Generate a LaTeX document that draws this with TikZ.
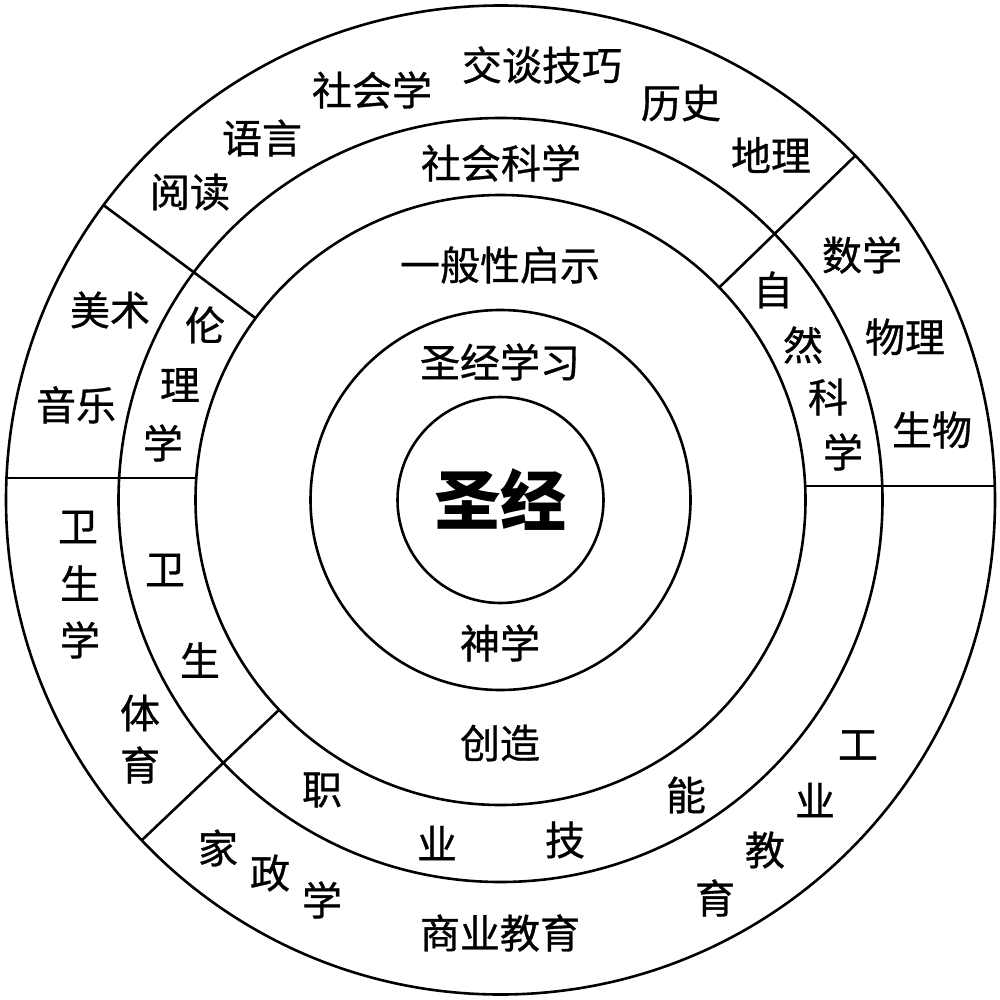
\documentclass[tikz,border=0pt]{standalone}
\usepackage{fontspec}
\setmainfont{Noto Sans CJK SC}
\newfontfamily\lblfont[FakeBold=0.8]{Noto Sans CJK SC}
\begin{document}
\begin{tikzpicture}[x=1pt,y=-1pt,
  ring/.style={line width=2.6pt},
  sep/.style={line width=2.6pt},
  lbl/.style={font=\lblfont\fontsize{40}{44}\selectfont, inner sep=0pt},
  big/.style={font=\fontsize{66}{70}\selectfont\bfseries, inner sep=0pt}]
\useasboundingbox[fill=white] (0,0) rectangle (1000,1000);
\coordinate (c) at (500.5,500);
% circles
\draw[ring] (c) circle (494.5);
\draw[ring] (c) circle (382);
\draw[ring] (c) circle (305);
\draw[ring] (c) circle (190);
\draw[ring] (c) circle (103);
% separators
\coordinate (a1) at (103.2,204.9); \coordinate (a2) at (255.3,318);
\coordinate (b1) at (855,156);     \coordinate (b2) at (719,287.7);
\coordinate (d1) at (141.5,840.5); \coordinate (d2) at (278.9,710);
\coordinate (e1) at (6,478);       \coordinate (e2) at (195.8,478);
\coordinate (f1) at (804.7,486);   \coordinate (f2) at (994.3,486);
\draw[sep] (a1) -- (a2);
\draw[sep] (b1) -- (b2);
\draw[sep] (d1) -- (d2);
\draw[sep] (e1) -- (e2);
\draw[sep] (f1) -- (f2);
% centre
\node[big] (shengjing) at (500,500) {圣经};
\node[lbl] (sjxx) at (500,362) {圣经学习};
\node[lbl] (shenxue) at (500,643) {神学};
\node[lbl] (ybxqs) at (500,265) {一般性启示};
\node[lbl] (chuangzao) at (500,743) {创造};
% fourth ring
\node[lbl] (shkx) at (501,163) {社会科学};
\node[lbl] (lun) at (205,325) {伦};
\node[lbl] (li) at (180,385) {理};
\node[lbl] (xue1) at (163,443) {学};
\node[lbl] (zi) at (773,290) {自};
\node[lbl] (ran) at (803,345) {然};
\node[lbl] (ke) at (828,397) {科};
\node[lbl] (xue2) at (843,452) {学};
\node[lbl] (wei1) at (165,570) {卫};
\node[lbl] (sheng1) at (200,660) {生};
\node[lbl] (zhi) at (322,790) {职};
\node[lbl] (ye1) at (437,843) {业};
\node[lbl] (ji) at (565,840) {技};
\node[lbl] (neng) at (686,795) {能};
% outer ring
\node[lbl] (jtjq) at (542,65) {交谈技巧};
\node[lbl] (shx) at (372,90) {社会学};
\node[lbl] (lishi) at (681,103) {历史};
\node[lbl] (yuyan) at (262,138) {语言};
\node[lbl] (dili) at (771,155) {地理};
\node[lbl] (yuedu) at (190,192) {阅读};
\node[lbl] (meishu) at (110,310) {美术};
\node[lbl] (yinyue) at (76,405) {音乐};
\node[lbl] (shuxue) at (862,255) {数学};
\node[lbl] (wuli) at (905,337) {物理};
\node[lbl] (shengwu) at (932,430) {生物};
\node[lbl] (wei2) at (78,527) {卫};
\node[lbl] (sheng2) at (80,583) {生};
\node[lbl] (xue3) at (80,640) {学};
\node[lbl] (ti) at (140,713) {体};
\node[lbl] (yu1) at (140,765) {育};
\node[lbl] (gong) at (858,745) {工};
\node[lbl] (ye2) at (815,800) {业};
\node[lbl] (jiao) at (765,850) {教};
\node[lbl] (yu2) at (715,898) {育};
\node[lbl] (jia) at (218,848) {家};
\node[lbl] (zheng) at (270,873) {政};
\node[lbl] (xue4) at (322,900) {学};
\node[lbl] (syjy) at (500,933) {商业教育};
\end{tikzpicture}
\end{document}
